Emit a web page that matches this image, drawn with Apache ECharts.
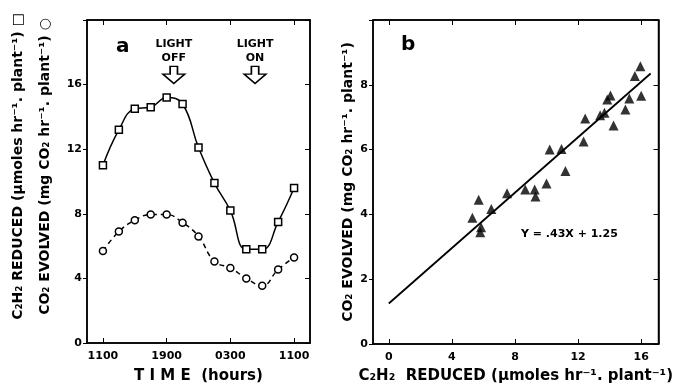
<!DOCTYPE html>
<html>
<head>
<meta charset="utf-8">
<script src="https://cdn.jsdelivr.net/npm/echarts@6/dist/echarts.min.js"></script>
<style>
  html, body { margin: 0; padding: 0; background: #fff; }
  #chart { width: 676px; height: 389px; }
</style>
</head>
<body>
<div id="chart"></div>
<script>
// panel a: hours after 1100 on day 1
const timeHours = [0, 2, 4, 6, 8, 10, 12, 14, 16, 18, 20, 22, 24];
const c2h2Reduced = [11.0, 13.2, 14.5, 14.6, 15.2, 14.8, 12.1, 9.9, 8.2, 5.8, 5.8, 7.5, 9.6];
const co2Evolved = [5.7, 6.9, 7.6, 7.95, 7.95, 7.45, 6.6, 5.05, 4.65, 4.0, 3.55, 4.55, 5.3];
const timeTicks = [0, 8, 16, 24];
const timeTickLabels = ['1100', '1900', '0300', '1100'];
const lightEvents = [
  { name: 'LIGHT\nOFF', hour: 8.9 },
  { name: 'LIGHT\nON', hour: 19.1 }
];

// panel b: scatter of CO2 evolved vs C2H2 reduced
const scatterX = [5.3, 5.7, 5.85, 5.8, 6.5, 7.5, 8.65, 9.25, 9.3, 10.0, 10.2, 10.95, 11.2,
  12.35, 12.45, 13.4, 13.67, 13.85, 14.05, 14.25, 15.0, 15.25, 15.6, 15.95, 16.0];
const scatterY = [3.9, 4.45, 3.6, 3.45, 4.17, 4.65, 4.77, 4.77, 4.55, 4.95, 6.0, 6.02, 5.34,
  6.25, 6.96, 7.06, 7.14, 7.55, 7.67, 6.74, 7.24, 7.58, 8.27, 8.57, 7.66];
const fitX = [0, 16.6];
const fitY = [1.25, 8.35];
const reducedTicks = [0, 4, 8, 12, 16];

const FONT = '"DejaVu Sans", sans-serif';
const INK = '#000';

const chart = echarts.init(document.getElementById('chart'));

const axisLine = () => ({ show: true, onZero: false, lineStyle: { color: INK, width: 1.5 } });
const labelStyle = extra => Object.assign({ color: INK, fontFamily: FONT, fontWeight: 'bold', fontSize: 11 }, extra);
const nameStyle = extra => Object.assign({ color: INK, fontFamily: FONT, fontWeight: 'bold', fontSize: 14 }, extra);

const arrowPath = 'path://M8,0 L16,0 L16,9 L24,9 L12,20 L0,9 L8,9 Z';

const option = {
  animation: false,
  grid: [
    { left: 87, top: 20, right: 366, bottom: 41, show: true, borderColor: INK, borderWidth: 1.5 },
    { left: 373, top: 20, right: 13, bottom: 40, show: true, borderColor: INK, borderWidth: 1.5, z: 10 }
  ],
  xAxis: [
    {
      gridIndex: 0, type: 'value', min: -2, max: 26, position: 'bottom',
      axisLine: axisLine(), splitLine: { show: false },
      axisTick: { show: true, inside: true, length: 5, customValues: timeTicks },
      axisLabel: labelStyle({
        margin: 8, customValues: timeTicks,
        formatter: v => timeTickLabels[timeTicks.indexOf(v)]
      }),
      name: 'T I M E  (hours)', nameLocation: 'middle', nameGap: 26,
      nameTextStyle: nameStyle({ fontSize: 15 })
    },
    {
      gridIndex: 0, type: 'value', min: -2, max: 26, position: 'top',
      axisLine: axisLine(), splitLine: { show: false },
      axisTick: { show: true, inside: true, length: 5, customValues: timeTicks },
      axisLabel: { show: false }
    },
    {
      gridIndex: 1, type: 'value', min: -1, max: 17.1, position: 'bottom',
      axisLine: axisLine(), splitLine: { show: false },
      axisTick: { show: true, inside: true, length: 5, customValues: reducedTicks },
      axisLabel: labelStyle({ margin: 8, customValues: reducedTicks }),
      name: 'C₂H₂  REDUCED (μmoles hr⁻¹. plant⁻¹)', nameLocation: 'middle', nameGap: 25,
      nameTextStyle: nameStyle({ fontSize: 15 })
    },
    {
      gridIndex: 1, type: 'value', min: -1, max: 17.1, position: 'top',
      axisLine: axisLine(), splitLine: { show: false },
      axisTick: { show: true, inside: true, length: 5, customValues: reducedTicks },
      axisLabel: { show: false }
    }
  ],
  yAxis: [
    {
      gridIndex: 0, type: 'value', min: 0, max: 20, interval: 4, position: 'left',
      axisLine: axisLine(), splitLine: { show: false },
      axisTick: { show: true, length: 4 },
      axisLabel: labelStyle({ margin: 5, formatter: v => (v === 20 ? '' : v) }),
      name: 'C₂H₂ REDUCED (μmoles hr⁻¹. plant⁻¹) □\nCO₂ EVOLVED (mg CO₂ hr⁻¹. plant⁻¹) ○',
      nameLocation: 'middle', nameGap: 28,
      nameTextStyle: nameStyle({ lineHeight: 27, padding: [0, 0, 0, 30] })
    },
    {
      gridIndex: 0, type: 'value', min: 0, max: 20, interval: 4, position: 'right',
      axisLine: axisLine(), splitLine: { show: false },
      axisTick: { show: true, inside: true, length: 5 },
      axisLabel: { show: false }
    },
    {
      gridIndex: 1, type: 'value', min: 0, max: 10, interval: 2, position: 'left', z: 10,
      axisLine: axisLine(), splitLine: { show: false },
      axisTick: { show: true, length: 4 },
      axisLabel: labelStyle({ margin: 5, formatter: v => (v === 10 ? '' : v) }),
      name: 'CO₂ EVOLVED (mg CO₂ hr⁻¹. plant⁻¹)',
      nameLocation: 'middle', nameGap: 18, nameTextStyle: nameStyle()
    },
    {
      gridIndex: 1, type: 'value', min: 0, max: 10, interval: 2, position: 'right',
      axisLine: axisLine(), splitLine: { show: false },
      axisTick: { show: true, inside: true, length: 5 },
      axisLabel: { show: false }
    }
  ],
  series: [
    {
      name: 'C2H2 reduced', type: 'line', xAxisIndex: 0, yAxisIndex: 0,
      data: timeHours.map((h, i) => [h, c2h2Reduced[i]]),
      smooth: 0.45, symbol: 'rect', symbolSize: 7,
      lineStyle: { color: INK, width: 1.5 },
      itemStyle: { color: '#fff', borderColor: INK, borderWidth: 1.5 },
      markPoint: {
        symbol: arrowPath, symbolSize: [22, 17],
        itemStyle: { color: '#fff', borderColor: INK, borderWidth: 1.5 },
        label: {
          show: true, position: 'top', distance: 1, color: INK,
          fontFamily: FONT, fontWeight: 'bold', fontSize: 11, lineHeight: 14, align: 'center',
          formatter: p => p.name
        },
        data: lightEvents.map(e => ({ name: e.name, coord: [e.hour, 16.6] }))
      }
    },
    {
      name: 'CO2 evolved', type: 'line', xAxisIndex: 0, yAxisIndex: 0,
      data: timeHours.map((h, i) => [h, co2Evolved[i]]),
      smooth: 0.45, symbol: 'circle', symbolSize: 7,
      lineStyle: { color: INK, width: 1.5, type: [5, 4] },
      itemStyle: { color: '#fff', borderColor: INK, borderWidth: 1.5 }
    },
    {
      name: 'scatter', type: 'scatter', xAxisIndex: 2, yAxisIndex: 2,
      data: scatterX.map((x, i) => [x, scatterY[i]]),
      symbol: 'triangle', symbolSize: 10,
      itemStyle: { color: INK }
    },
    {
      name: 'fit', type: 'line', xAxisIndex: 2, yAxisIndex: 2,
      data: fitX.map((x, i) => [x, fitY[i]]),
      symbol: 'none', lineStyle: { color: INK, width: 1.8 }
    }
  ],
  graphic: [
    { type: 'text', left: 116, top: 37, style: { text: 'a', font: 'bold 20px ' + FONT, fill: INK } },
    { type: 'text', left: 401, top: 35, style: { text: 'b', font: 'bold 20px ' + FONT, fill: INK } },
    { type: 'text', left: 521, top: 229, style: { text: 'Y = .43X + 1.25', font: 'bold 11px ' + FONT, fill: INK } }
  ]
};

chart.setOption(option);
</script>
</body>
</html>
